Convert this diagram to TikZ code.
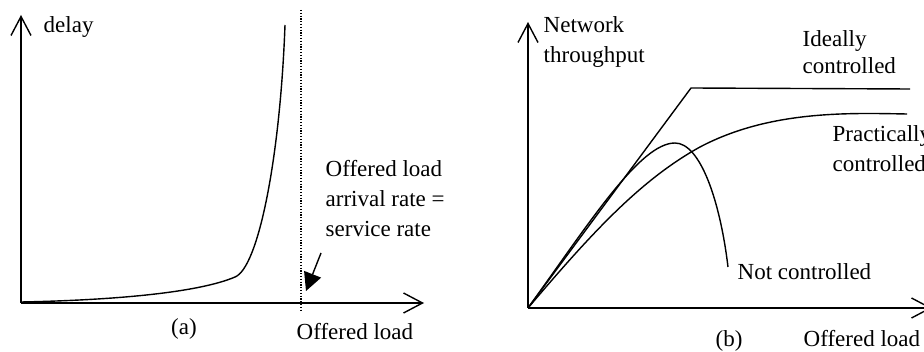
\documentclass[tikz,border=0pt]{standalone}
\usepackage{fontspec}
\setmainfont{Liberation Serif}
\usetikzlibrary{arrows.meta}
\begin{document}
\begin{tikzpicture}[x=1pt,y=-1pt,line width=1.4pt,
  lbl/.style={font=\fontsize{23}{28}\selectfont,inner sep=0pt,anchor=base west},
  captionlbl/.style={font=\fontsize{23}{28}\selectfont,inner sep=0pt,anchor=base},
  axis/.style={line width=1.4pt,-{Straight Barb[length=19pt,width=20pt,line width=1.4pt]}},
  curve/.style={line width=1.4pt},
  pointer/.style={line width=1.4pt,-{Triangle[length=18pt,width=18pt]}},
  limit/.style={line width=1.2pt,dash pattern=on 1.2pt off 1.6pt}]
\useasboundingbox (0,0) rectangle (924,352);
% ---------- panel (a)
\coordinate (oa) at (21,303);
\coordinate (ya) at (21,15);
\coordinate (xa) at (424,303);
\draw[axis] (oa) -- (ya);
\draw[axis] (oa) -- (xa);
\node[lbl] (delay) at (43,33) {delay};
\coordinate (d0) at (21,302);
\coordinate (dk) at (235,277);
\coordinate (d1) at (285,25);
\draw[curve] (d0) .. controls (120,300) and (200,292) .. (dk)
                  .. controls (258,268) and (280,160) .. (d1);
\coordinate (dt) at (301,10);
\coordinate (db) at (301,310);
\draw[limit] (dt) -- (db);
\node[lbl] (la1) at (325,177) {Offered load};
\node[lbl] (la2) at (325,207) {arrival rate =};
\node[lbl] (la3) at (325,237) {service rate};
\coordinate (as) at (321,253);
\coordinate (ae) at (306,291);
\draw[pointer] (as) -- (ae);
\node[captionlbl] (capa) at (184,335) {(a)};
\node[lbl] (xla) at (296,340) {Offered load};
% ---------- panel (b)
\coordinate (ob) at (528,308);
\coordinate (yb) at (528,22);
\coordinate (xb) at (932,308);
\draw[axis] (ob) -- (yb);
\draw[axis] (ob) -- (xb);
\node[lbl] (nt1) at (543,33) {Network};
\node[lbl] (nt2) at (543,63) {throughput};
\coordinate (knee) at (691,88);
\coordinate (iend) at (910,89);
\draw[curve] (ob) -- (knee) -- (iend);
\node[lbl] (id1) at (802,47) {Ideally};
\node[lbl] (id2) at (802,74) {controlled};
\coordinate (pm) at (700,147);
\coordinate (pend) at (907,114);
\draw[curve] (ob) .. controls (590,235) and (640,180) .. (pm)
                  .. controls (770,110) and (850,113) .. (pend);
\node[lbl] (pc1) at (832,142) {Practically};
\node[lbl] (pc2) at (832,172) {controlled};
\coordinate (npk) at (675,143);
\coordinate (nend) at (728,267);
\draw[curve] (ob) .. controls (590,222) and (640,143) .. (npk)
                  .. controls (700,143) and (720,200) .. (nend);
\node[lbl] (nc) at (737,280) {Not controlled};
\node[captionlbl] (capb) at (729,347) {(b)};
\node[lbl] (xlb) at (803,347) {Offered load};
\end{tikzpicture}
\end{document}
